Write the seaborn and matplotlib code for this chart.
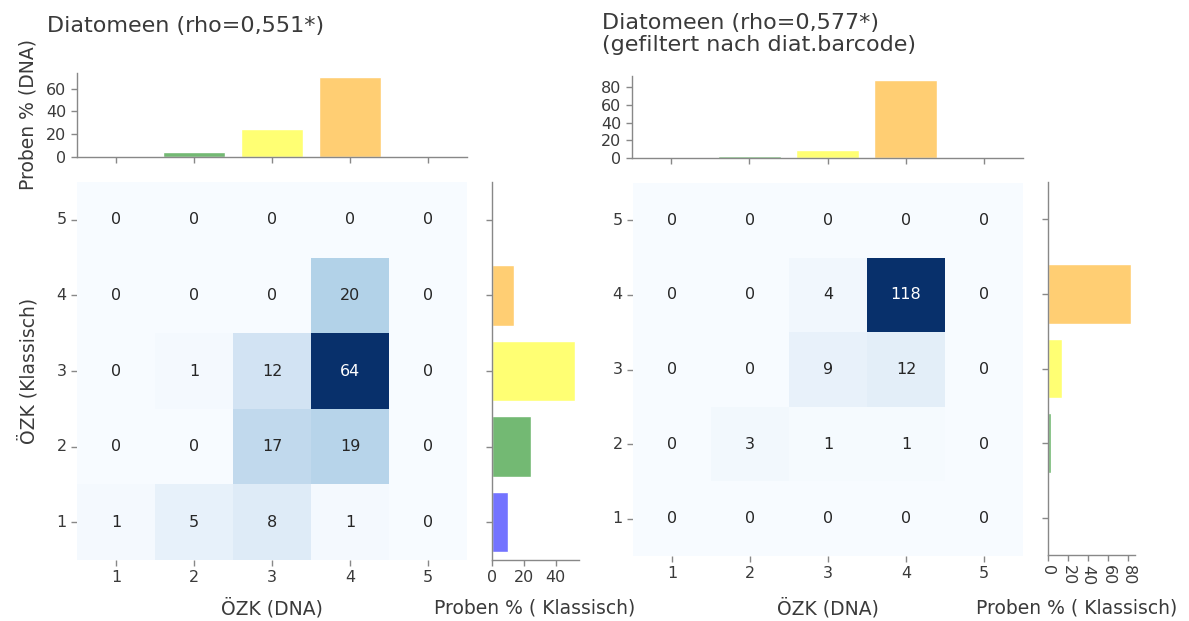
import numpy as np
import pandas as pd
import matplotlib
matplotlib.use("Agg")
import matplotlib.pyplot as plt
import seaborn as sns

sns.set_style("white")
plt.rcParams["font.family"] = ["DejaVu Sans"]

# ---- data ----
levels = [1, 2, 3, 4, 5]
# rows: ÖZK (Klassisch) 5..1 (top to bottom), cols: ÖZK (DNA) 1..5
counts_all = [
    [0, 0, 0, 0, 0],   # 5
    [0, 0, 0, 20, 0],  # 4
    [0, 1, 12, 64, 0], # 3
    [0, 0, 17, 19, 0], # 2
    [1, 5, 8, 1, 0],   # 1
]
counts_filt = [
    [0, 0, 0, 0, 0],    # 5
    [0, 0, 4, 118, 0],  # 4
    [0, 0, 9, 12, 0],   # 3
    [0, 3, 1, 1, 0],    # 2
    [0, 0, 0, 0, 0],    # 1
]
row_levels = [5, 4, 3, 2, 1]
titles = ["Diatomeen (rho=0,551*)",
          "Diatomeen (rho=0,577*)\n(gefiltert nach diat.barcode)"]
level_colors = ["#7373ff", "#73b973", "#ffff73", "#ffce73", "#ff9d73"]

TXT = "#3a3a3a"
SP = "#888888"
W, H = 1189, 621
fig = plt.figure(figsize=(W / 100, H / 100), dpi=100)

def fx(px):
    return px / W

def fy(px):
    return 1 - px / H

def style(ax):
    for s in ["top", "right"]:
        ax.spines[s].set_visible(False)
    for s in ["left", "bottom"]:
        ax.spines[s].set_color(SP)
        ax.spines[s].set_linewidth(1.0)
    ax.tick_params(colors=SP, labelcolor=TXT, labelsize=11.5, length=4, width=1,
                   direction="out", left=True, bottom=True)

panels = [
    dict(mat=counts_all, hx=(77, 467), hy=(182, 560), tx=(77, 467), ty=(73, 157),
         rx=(492, 579), ry=(182, 560), title=titles[0], tpos=(47, 26),
         top_ticks=[0, 20, 40, 60], side_ticks=[0, 20, 40], rot=0, ylabels=True),
    dict(mat=counts_filt, hx=(633, 1023), hy=(183, 556), tx=(632, 1023), ty=(76, 158),
         rx=(1048, 1135), ry=(182, 555), title=titles[1], tpos=(602, 34),
         top_ticks=[0, 20, 40, 60, 80], side_ticks=[0, 20, 40, 60, 80], rot=-90, ylabels=False),
]

LABEL_Y = 608
for p in panels:
    df = pd.DataFrame(p["mat"], index=row_levels, columns=levels)
    total = df.values.sum()
    col_pct = df.sum(axis=0).values / total * 100
    row_pct = df.sum(axis=1).values / total * 100  # order 5..1

    # heatmap
    axh = fig.add_axes([fx(p["hx"][0]), fy(p["hy"][1]),
                        fx(p["hx"][1] - p["hx"][0]), (p["hy"][1] - p["hy"][0]) / H])
    sns.heatmap(df, ax=axh, cmap="Blues", vmin=0, vmax=df.values.max(), cbar=False,
                annot=True, fmt="d", annot_kws={"fontsize": 11.5}, square=False)
    style(axh)
    axh.set_xticklabels([str(v) for v in levels], rotation=0)
    axh.set_yticklabels([str(v) for v in row_levels], rotation=0)
    axh.set_xlabel("ÖZK (DNA)", fontsize=13.5, color=TXT, va="center")
    axh.xaxis.set_label_coords(0.5, -(LABEL_Y - p["hy"][1]) / (p["hy"][1] - p["hy"][0]))
    if p["ylabels"]:
        axh.set_ylabel("ÖZK (Klassisch)", fontsize=13.5, color=TXT, va="center")
        axh.yaxis.set_label_coords(-(p["hx"][0] - 28) / (p["hx"][1] - p["hx"][0]), 0.5)
    else:
        axh.set_ylabel("")

    # top marginal
    axt = fig.add_axes([fx(p["tx"][0]), fy(p["ty"][1]),
                        fx(p["tx"][1] - p["tx"][0]), (p["ty"][1] - p["ty"][0]) / H])
    tdf = pd.DataFrame({"lvl": levels, "pct": col_pct})
    sns.barplot(data=tdf, x="lvl", y="pct", hue="lvl", palette=level_colors,
                legend=False, ax=axt, width=0.8, saturation=1)
    style(axt)
    axt.set_xlim(-0.5, 4.5)
    axt.set_ylim(0, col_pct.max() * 1.05)
    axt.set_yticks(p["top_ticks"])
    axt.set_xticklabels([])
    axt.set_xlabel("")
    if p["ylabels"]:
        axt.set_ylabel("Proben % (DNA)", fontsize=13.5, color=TXT, va="center")
        axt.yaxis.set_label_coords(-(p["tx"][0] - 28) / (p["tx"][1] - p["tx"][0]), 0.5)
    else:
        axt.set_ylabel("")

    # side marginal
    axr = fig.add_axes([fx(p["rx"][0]), fy(p["ry"][1]),
                        fx(p["rx"][1] - p["rx"][0]), (p["ry"][1] - p["ry"][0]) / H])
    rdf = pd.DataFrame({"lvl": [str(v) for v in row_levels], "pct": row_pct})
    sns.barplot(data=rdf, y="lvl", x="pct", hue="lvl", orient="h",
                palette=level_colors[::-1], legend=False, ax=axr, width=0.8, saturation=1,
                order=[str(v) for v in row_levels])
    style(axr)
    axr.set_ylim(4.5, -0.5)
    axr.set_xlim(0, row_pct.max() * 1.05)
    axr.set_xticks(p["side_ticks"])
    axr.set_xticklabels([str(t) for t in p["side_ticks"]], rotation=p["rot"])
    axr.set_yticklabels([])
    axr.set_ylabel("")
    axr.set_xlabel("Proben % ( Klassisch)", fontsize=13.5, color=TXT, va="center")
    cx = 535 if p["ylabels"] else 1077
    axr.xaxis.set_label_coords((cx - p["rx"][0]) / (p["rx"][1] - p["rx"][0]),
                               -(LABEL_Y - p["ry"][1]) / (p["ry"][1] - p["ry"][0]))

    fig.text(fx(p["tpos"][0]), fy(p["tpos"][1]), p["title"], fontsize=16,
             color=TXT, ha="left", va="center", linespacing=1.15)

fig.savefig("out.png", dpi=100)
